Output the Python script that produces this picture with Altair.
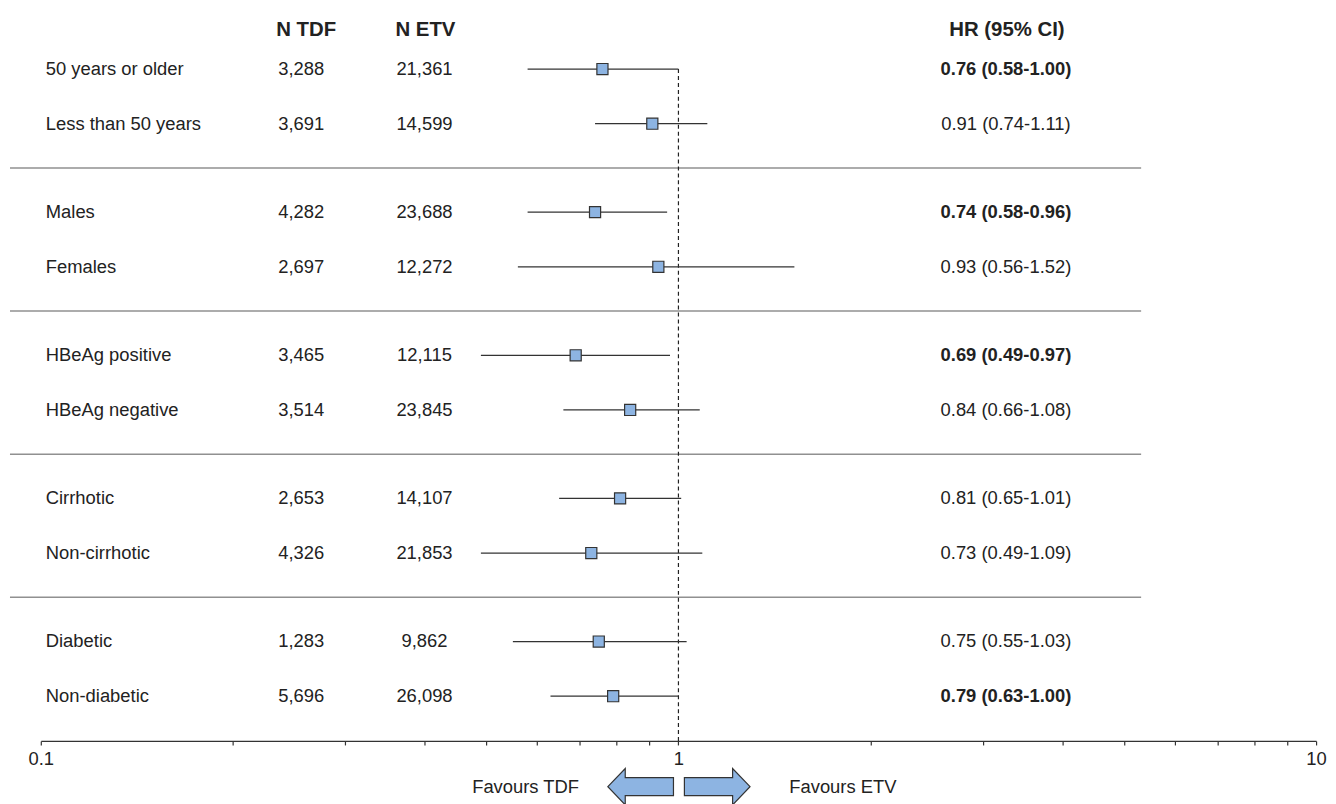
import altair as alt
import pandas as pd

# ---------------- data ----------------
labels = ["50 years or older", "Less than 50 years", "Males", "Females",
          "HBeAg positive", "HBeAg negative", "Cirrhotic", "Non-cirrhotic",
          "Diabetic", "Non-diabetic"]
n_tdf = [3288, 3691, 4282, 2697, 3465, 3514, 2653, 4326, 1283, 5696]
n_etv = [21361, 14599, 23688, 12272, 12115, 23845, 14107, 21853, 9862, 26098]
hr = [0.76, 0.91, 0.74, 0.93, 0.69, 0.84, 0.81, 0.73, 0.75, 0.79]
ci_low = [0.58, 0.74, 0.58, 0.56, 0.49, 0.66, 0.65, 0.49, 0.55, 0.63]
ci_high = [1.00, 1.11, 0.96, 1.52, 0.97, 1.08, 1.01, 1.09, 1.03, 1.00]
significant = [True, False, True, False, True, False, False, False, False, True]
headers = ["N TDF", "N ETV", "HR (95% CI)"]
tick_values = [0.1, 0.2, 0.3, 0.4, 0.5, 0.6, 0.7, 0.8, 0.9,
               1, 2, 3, 4, 5, 6, 7, 8, 9, 10]
favour_labels = ["Favours TDF", "Favours ETV"]

# ---------------- layout helpers ----------------
GAP = 0.618          # extra space between subgroups (in row units)
PER_GROUP = 2
pos = [(i // PER_GROUP) * (PER_GROUP + GAP) + i % PER_GROUP for i in range(len(labels))]
sep_pos = [g * (PER_GROUP + GAP) + (PER_GROUP - 1) + (1 + GAP) / 2
           for g in range(len(labels) // PER_GROUP - 1)]

df = pd.DataFrame({
    "label": labels, "n_tdf": n_tdf, "n_etv": n_etv, "hr": hr,
    "lo": ci_low, "hi": ci_high, "sig": significant, "pos": pos,
})
df["hr_text"] = [f"{h:.2f} ({l:.2f}-{u:.2f})" for h, l, u in zip(hr, ci_low, ci_high)]
sep_df = pd.DataFrame({"pos": sep_pos})
ref_df = pd.DataFrame({"x": [1.0], "pos": [min(pos)]})
one = pd.DataFrame({"k": [0]})

W, H = 1283, 723
ROW_PX = 55.0
TOP_PX, ROW0_PX, AXIS_PX = 20.0, 67.0, 743.0
y_dom = [(TOP_PX - ROW0_PX) / ROW_PX, (AXIS_PX - ROW0_PX) / ROW_PX]

FONT = "Liberation Sans"
TXT = "#222222"
FS = 18.5

yscale = alt.Scale(domain=y_dom, reverse=True, nice=False, zero=False)
xscale = alt.Scale(type="log", domain=[0.1, 10], nice=False)
xaxis = alt.Axis(
    values=tick_values,
    labelExpr="datum.value == 0.1 ? '0.1' : (datum.value == 1 ? '1' : (datum.value == 10 ? '10' : ''))",
    title=None, grid=False, tickSize=4, tickWidth=1.2, tickColor="#333333",
    domainColor="#333333", domainWidth=1.3, labelFont=FONT, labelFontSize=FS,
    labelColor=TXT, labelPadding=5, labelFlush=False, labelOverlap=False,
)


def Y(field="pos"):
    return alt.Y(f"{field}:Q", scale=yscale, axis=None)


base = alt.Chart(df)

ci = base.mark_rule(color="#333333", strokeWidth=1.3).encode(
    x=alt.X("lo:Q", scale=xscale, axis=xaxis),
    x2="hi:Q",
    y=Y(),
)

ref_line = alt.Chart(ref_df).mark_rule(color="#222222", strokeWidth=1.2, strokeDash=[4, 3]).encode(
    x=alt.X("x:Q", scale=xscale, axis=xaxis),
    y=Y(),
    y2=alt.value(H),
)

squares = base.mark_square(size=125, fill="#8DB4E2", stroke="#333333",
                           strokeWidth=1.2, opacity=1, filled=True).encode(
    x=alt.X("hr:Q", scale=xscale, axis=xaxis),
    y=Y(),
)

seps = alt.Chart(sep_df).mark_rule(color="#909090", strokeWidth=1.5).encode(
    x=alt.value(-31), x2=alt.value(1107), y=Y(),
)

lab = base.mark_text(align="left", baseline="middle", font=FONT, fontSize=FS,
                     color=TXT).encode(x=alt.value(5), y=Y(), text="label:N")
tdf_txt = base.mark_text(align="center", baseline="middle", font=FONT, fontSize=FS,
                         color=TXT).encode(x=alt.value(262), y=Y(),
                                           text=alt.Text("n_tdf:Q", format=","))
etv_txt = base.mark_text(align="center", baseline="middle", font=FONT, fontSize=FS,
                         color=TXT).encode(x=alt.value(386), y=Y(),
                                           text=alt.Text("n_etv:Q", format=","))
hr_bold = base.transform_filter("datum.sig").mark_text(
    align="center", baseline="middle", font=FONT, fontSize=FS, fontWeight="bold",
    color=TXT).encode(x=alt.value(971), y=Y(), text="hr_text:N")
hr_reg = base.transform_filter("!datum.sig").mark_text(
    align="center", baseline="middle", font=FONT, fontSize=FS,
    color=TXT).encode(x=alt.value(971), y=Y(), text="hr_text:N")

hdr_kw = dict(baseline="middle", align="center", font=FONT, fontSize=20.5,
              fontWeight="bold", color=TXT)
hdr1 = alt.Chart(one).mark_text(text=headers[0], **hdr_kw).encode(x=alt.value(267), y=alt.value(8))
hdr2 = alt.Chart(one).mark_text(text=headers[1], **hdr_kw).encode(x=alt.value(387), y=alt.value(8))
hdr3 = alt.Chart(one).mark_text(text=headers[2], **hdr_kw).encode(x=alt.value(972), y=alt.value(8))

left_arrow = "M -1 0 L -0.47 -0.555 L -0.47 -0.275 L 1 -0.275 L 1 0.275 L -0.47 0.275 L -0.47 0.555 Z"
right_arrow = "M 1 0 L 0.47 -0.555 L 0.47 -0.275 L -1 -0.275 L -1 0.275 L 0.47 0.275 L 0.47 0.555 Z"
arr_kw = dict(filled=True, fill="#8DB4E2", stroke="#333333", strokeWidth=1.2,
              opacity=1, size=4356)
arr_l = alt.Chart(one).mark_point(shape=left_arrow, **arr_kw).encode(
    x=alt.value(603.5), y=alt.value(769))
arr_r = alt.Chart(one).mark_point(shape=right_arrow, **arr_kw).encode(
    x=alt.value(680.5), y=alt.value(769))

fav_kw = dict(baseline="middle", font=FONT, fontSize=FS, color=TXT)
fav_l = alt.Chart(one).mark_text(text=favour_labels[0], align="right", **fav_kw).encode(
    x=alt.value(541.5), y=alt.value(769))
fav_r = alt.Chart(one).mark_text(text=favour_labels[1], align="left", **fav_kw).encode(
    x=alt.value(753), y=alt.value(769))

chart = alt.layer(
    seps, ref_line, ci, squares, lab, tdf_txt, etv_txt, hr_bold, hr_reg,
    hdr1, hdr2, hdr3, arr_l, arr_r, fav_l, fav_r,
).properties(
    width=W, height=H,
    autosize=alt.AutoSizeParams(type="none"),
    padding={"left": 33, "top": 12, "right": 12, "bottom": 61},
    background="white",
).configure_view(stroke=None)

chart.save("out.html", embed_options={"renderer": "svg", "actions": False})
